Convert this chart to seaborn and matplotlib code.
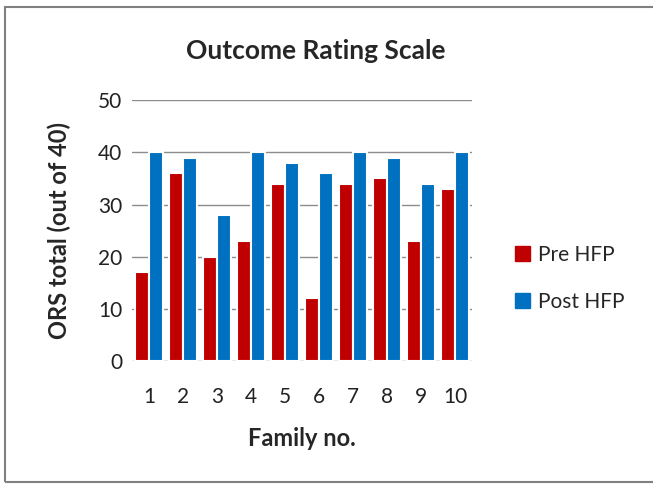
import pandas as pd
import numpy as np
import matplotlib
matplotlib.use("Agg")
import matplotlib.pyplot as plt
import seaborn as sns
from matplotlib.patches import Rectangle

# Data
families = ["1", "2", "3", "4", "5", "6", "7", "8", "9", "10"]
pre_hfp = [17, 36, 20, 23, 34, 12, 34, 35, 23, 33]
post_hfp = [40, 39, 28, 40, 38, 36, 40, 39, 34, 40]
series = ["Pre HFP", "Post HFP"]
colors = ["#C00000", "#0070C0"]

df = pd.DataFrame({
    "Family": families * 2,
    "Score": pre_hfp + post_hfp,
    "Group": [series[0]] * len(families) + [series[1]] * len(families),
})

sns.set_style("white")
plt.rcParams["font.family"] = ["Lato", "DejaVu Sans"]

fig = plt.figure(figsize=(6.53, 4.84), dpi=100)
ax = fig.add_axes([0.202, 0.254, 0.521, 0.539])

sns.barplot(data=df, x="Family", y="Score", hue="Group", order=families,
            hue_order=series, palette=colors, saturation=1, width=0.82,
            edgecolor="white", linewidth=1.5, ax=ax, legend=False)

ax.set_ylim(0, 50)
ax.set_yticks(range(0, 51, 10))
ax.set_xlim(-0.5, 9.5)
ax.yaxis.grid(True, color="#8c8c8c", linewidth=1)
ax.set_axisbelow(True)
for s in ax.spines.values():
    s.set_visible(False)
ax.tick_params(axis="both", length=0, labelsize=15, colors="#222222")
ax.tick_params(axis="y", pad=7)
ax.tick_params(axis="x", pad=19)

ax.set_xlabel("Family no.", fontsize=17, fontweight="bold", labelpad=14)
ax.set_ylabel("ORS total (out of 40)", fontsize=17, fontweight="bold", labelpad=19)
fig.text(0.484, 0.895, "Outcome Rating Scale", ha="center", va="center",
         fontsize=19, fontweight="bold")

handles = [Rectangle((0, 0), 1, 1, color=c) for c in colors]
fig.legend(handles, series, loc="center left", bbox_to_anchor=(0.76, 0.425),
           frameon=False, fontsize=15, handlelength=0.7, handleheight=0.7,
           handletextpad=0.4, labelspacing=1.3)

# outer chart border
fig.patches.append(Rectangle((0.008, 0.004), 1.2, 0.982, transform=fig.transFigure,
                             fill=False, edgecolor="#808080", linewidth=1.5))

fig.savefig("out.png", dpi=100)
